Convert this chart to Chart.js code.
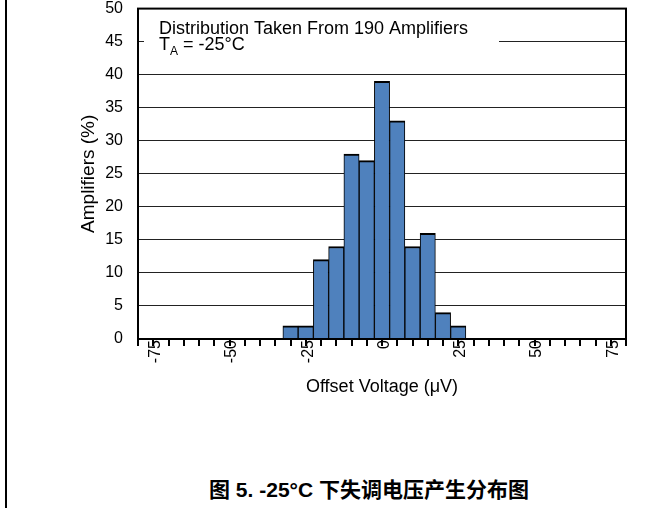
<!DOCTYPE html>
<html>
<head>
<meta charset="utf-8">
<script src="https://cdn.jsdelivr.net/npm/chart.js@4"></script>
<style>
  body { margin: 0; background: #fff; }
  #wrap { position: relative; width: 669px; height: 508px; overflow: hidden; }
  /* canvas pulled up so the plot top sits at y=8 like the original */
  #chart { position: absolute; left: 0; top: -16px; }
  #edge { position: absolute; left: 5px; top: 0; width: 2px; height: 508px; background: #000; }
  #caption {
    position: absolute; left: 369px; top: 478px; transform: translateX(-50%);
    white-space: nowrap; font: bold 21px "Liberation Sans", "Noto Sans CJK SC", sans-serif;
    line-height: 24px; color: #000;
  }
</style>
</head>
<body>
<div id="wrap">
  <canvas id="chart" width="669" height="416"></canvas>
  <div id="edge"></div>
  <div id="caption">图 5. -25°C 下失调电压产生分布图</div>
</div>
<script>
// bin centres (uV) and share of amplifiers (%)
const binCenters = [-27.5, -22.5, -17.5, -12.5, -7.5, -2.5, 2.5, 7.5, 12.5, 17.5, 22.5, 27.5];
const amplifiers = [2, 2, 12, 14, 28, 27, 39, 33, 14, 16, 4, 2];
const xLabels = [-75, -50, -25, 0, 25, 50, 75];
const noteLine1 = 'Distribution Taken From 190 Amplifiers';
const noteLine2 = ['T', 'A', ' = -25°C'];

const FONT = '"Liberation Sans", Arial, sans-serif';
const ctx = document.getElementById('chart').getContext('2d');

const points = binCenters.map((x, i) => ({ x: x, y: amplifiers[i] }));

// frame round the plot + the note box in the top left
const framePlugin = {
  id: 'frame',
  afterDraw(chart) {
    const a = chart.chartArea;
    const c = chart.ctx;
    c.save();
    c.fillStyle = '#fff';
    c.fillRect(a.left + 6, a.top + 5, 355, 46);
    c.fillStyle = '#000';
    c.textBaseline = 'alphabetic';
    c.font = '18px ' + FONT;
    c.fillText(noteLine1, a.left + 21, a.top + 25);
    c.fillText(noteLine2[0], a.left + 21, a.top + 41);
    const tw = c.measureText(noteLine2[0]).width;
    c.font = '12px ' + FONT;
    c.fillText(noteLine2[1], a.left + 21 + tw, a.top + 46);
    const aw = c.measureText(noteLine2[1]).width;
    c.font = '18px ' + FONT;
    c.fillText(noteLine2[2], a.left + 21 + tw + aw, a.top + 41);
    c.strokeStyle = '#000';
    c.lineWidth = 2;
    c.strokeRect(a.left, a.top, a.right - a.left, a.bottom - a.top);
    c.restore();
  }
};

const chart = new Chart(ctx, {
  type: 'bar',
  data: {
    datasets: [{
      data: points,
      backgroundColor: '#4f81bd',
      borderColor: '#000',
      borderWidth: { top: 2, left: 1, right: 1, bottom: 0 },
      borderSkipped: false,
      barPercentage: 1,
      categoryPercentage: 1
    }]
  },
  options: {
    responsive: false,
    animation: false,
    devicePixelRatio: 1,
    layout: { padding: { top: 8, right: 43, left: 0, bottom: 0 } },
    plugins: {
      legend: { display: false },
      tooltip: { enabled: false }
    },
    scales: {
      x: {
        type: 'linear',
        min: -75,
        max: 80,
        afterFit: s => { s.height = 61; },
        border: { display: true, color: '#000', width: 2 },
        grid: { drawOnChartArea: false, drawTicks: true, tickLength: 7, color: '#000', lineWidth: 2 },
        ticks: {
          stepSize: 5,
          minRotation: 90,
          maxRotation: 90,
          autoSkip: false,
          labelOffset: 10,
          padding: -6,
          color: '#000',
          font: { family: FONT, size: 16 },
          callback: v => xLabels.includes(v) ? String(v) : ''
        },
        title: {
          display: true,
          text: 'Offset Voltage (μV)',
          color: '#000',
          font: { family: FONT, size: 18 },
          padding: { top: 0, bottom: 2 }
        }
      },
      y: {
        min: 0,
        max: 50,
        afterFit: s => { s.width = 138; },
        border: { display: true, color: '#000', width: 2 },
        grid: { drawTicks: false, color: '#222', lineWidth: 1 },
        ticks: {
          stepSize: 5,
          padding: 15,
          color: '#000',
          font: { family: FONT, size: 16 }
        },
        title: {
          display: true,
          text: 'Amplifiers (%)',
          color: '#000',
          font: { family: FONT, size: 19 },
          padding: { top: 77, bottom: 0 }
        }
      }
    }
  },
  plugins: [framePlugin]
});
</script>
</body>
</html>
